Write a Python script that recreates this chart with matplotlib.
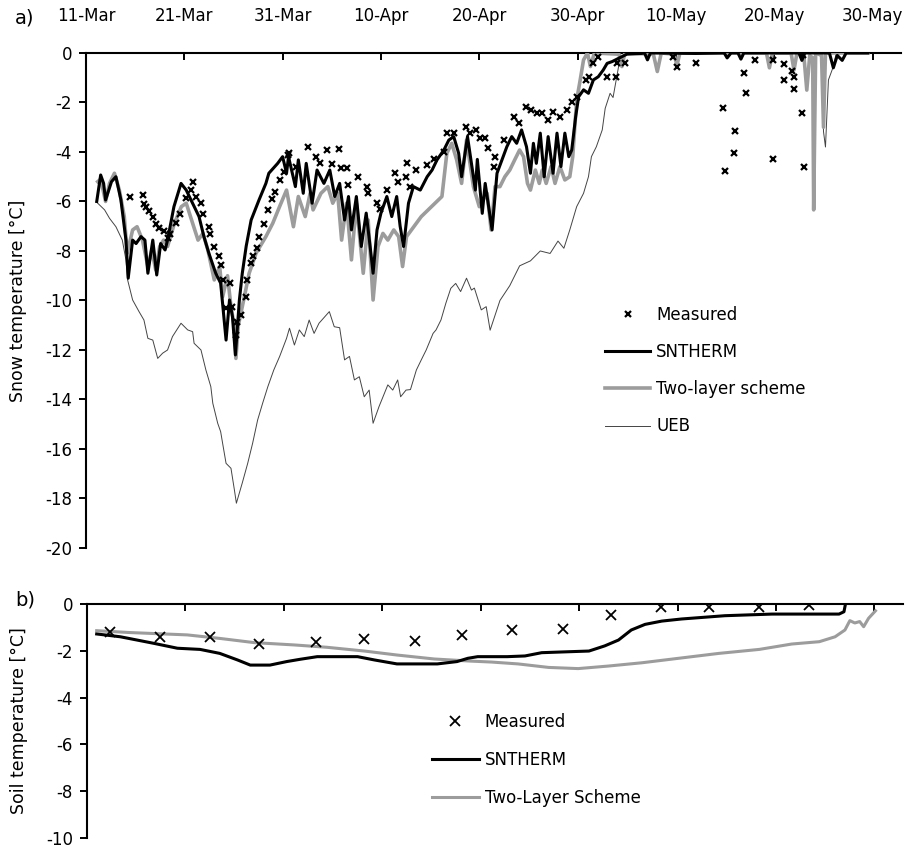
import pandas as pd
import matplotlib.pyplot as plt
import matplotlib.dates as mdates

plt.rcParams['font.family'] = ['DejaVu Sans']
plt.rcParams['axes.unicode_minus'] = False

start = pd.Timestamp('2006-03-11')

# ---- a) snow temperature, x = days after 11-Mar ----
snth_day = [1.1, 1.5, 1.8, 2.0, 2.6, 3.05, 3.56, 4.07, 4.3, 4.75, 5.1, 5.6, 6.0, 6.3, 6.8, 7.2, 7.6, 8.05,
            8.3, 8.95, 9.67, 10.2, 10.85, 11.5, 12.0, 12.5, 13.2, 13.7, 14.25, 14.6, 14.9, 15.2, 15.6, 15.9,
            16.3, 16.8, 17.6, 18.3, 18.6, 19.5, 20.0, 20.4, 20.6, 21.3, 21.6, 22.1, 22.4, 23.0, 23.5, 24.2,
            24.8, 25.3, 25.8, 26.3, 26.7, 27.0, 27.5, 28.0, 28.5, 28.9, 29.2, 29.6, 30.0, 30.6, 31.1, 31.6,
            31.95, 32.3, 32.8, 33.3, 34.0, 34.7, 35.2, 35.7, 36.4, 36.9, 37.4, 37.9, 38.2, 38.8, 39.2, 39.6,
            39.8, 40.3, 40.6, 41.3, 41.8, 42.3, 42.8, 43.3, 43.8, 44.3, 44.8, 45.2, 45.5, 45.8, 46.2, 46.6,
            47.0, 47.5, 47.9, 48.3, 48.7, 49.1, 49.4, 49.8, 50.1, 50.6, 51.1, 51.6, 52.1, 52.6, 53.0, 53.5,
            54.2, 55.0, 56.5, 56.8, 57.1, 57.4, 62.0, 64.9, 65.2, 65.6, 66.3, 66.6, 66.9, 72.5, 72.8, 73.1,
            75.6, 76.0, 76.4, 76.9, 77.3, 79.5]
snth_val = [-6.0, -4.93, -5.27, -5.94, -5.2, -5.0, -5.94, -7.56, -9.1, -7.56, -7.7, -7.42, -7.56, -8.9, -7.56,
            -8.97, -7.7, -7.96, -7.56, -6.21, -5.27, -5.54, -6.07, -6.61, -7.42, -8.09, -8.9, -9.3, -11.6, -9.98,
            -10.65, -12.2, -10.0, -8.9, -7.8, -6.75, -5.94, -5.27, -4.86, -4.46, -4.19, -4.86, -4.19, -5.40,
            -4.32, -5.67, -4.46, -6.07, -4.73, -5.27, -4.73, -5.8, -5.27, -6.75, -5.8, -7.15, -5.8, -7.82,
            -6.47, -7.82, -8.9, -7.15, -6.47, -5.8, -6.61, -5.8, -7.0, -7.82, -6.07, -5.40, -5.54, -5.0, -4.73,
            -4.32, -3.92, -3.52, -3.38, -4.05, -5.0, -3.38, -4.46, -5.54, -4.3, -6.48, -5.27, -7.15, -4.86,
            -4.32, -3.79, -3.38, -3.65, -3.11, -3.79, -4.86, -3.65, -4.46, -3.24, -5.0, -3.38, -4.86, -3.24,
            -4.59, -3.24, -4.19, -3.92, -2.57, -1.77, -1.49, -1.63, -1.09, -0.96, -0.69, -0.42, -0.35, -0.21,
            -0.05, -0.02, 0.0, -0.28, 0.0, -0.02, 0.0, -0.2, 0.0, 0.0, -0.25, 0.0, 0.0, -0.3, 0.0,
            0.0, -0.6, -0.1, -0.3, 0.0, 0.0]

two_day = [1.2, 1.5, 2.0, 2.4, 2.9, 3.4, 3.9, 4.2, 4.75, 5.2, 5.75, 6.3, 6.7, 7.1, 7.5, 7.9, 8.3, 9.0, 9.7,
           10.2, 10.85, 11.4, 11.9, 12.4, 13.05, 13.6, 13.9, 14.4, 14.75, 15.1, 15.25, 15.5, 15.9, 16.6, 17.3,
           18.3, 19.0, 19.7, 20.4, 21.1, 21.6, 22.3, 22.8, 23.1, 23.9, 24.6, 25.1, 25.6, 26.0, 26.5, 27.0,
           27.5, 28.2, 28.7, 29.2, 29.7, 30.2, 30.7, 31.3, 31.8, 32.2, 32.6, 33.1, 33.6, 34.1, 34.8, 35.5,
           36.2, 36.7, 37.2, 37.7, 38.2, 38.7, 39.4, 40.0, 40.8, 41.2, 41.6, 42.1, 42.6, 43.1, 43.6, 44.1,
           44.5, 44.9, 45.2, 45.7, 46.1, 46.4, 46.8, 47.3, 47.7, 48.2, 48.7, 49.2, 49.5, 49.9, 50.2, 50.6,
           51.0, 51.3, 51.7, 54.2, 54.5, 54.8, 57.7, 58.1, 58.5, 59.8, 60.1, 60.4, 69.2, 69.5, 69.8, 71.7,
           72.0, 72.3, 73.0, 73.3, 73.6, 73.9, 74.0, 74.2, 74.8, 75.0, 75.2, 79.5]
two_val = [-5.2, -5.1, -6.0, -5.27, -4.86, -5.54, -6.61, -8.09, -7.15, -7.02, -7.56, -8.63, -7.96, -8.77, -7.82,
           -7.56, -7.82, -6.88, -6.21, -6.07, -6.88, -7.56, -7.29, -7.96, -9.17, -8.63, -9.85, -9.0, -10.25,
           -11.06, -12.34, -11.0, -10.25, -8.9, -8.09, -7.42, -6.88, -6.2, -5.54, -7.02, -5.8, -6.61, -5.67,
           -6.34, -5.67, -5.40, -6.07, -5.67, -7.56, -6.07, -8.36, -6.07, -8.9, -6.75, -9.98, -7.82, -7.29,
           -7.56, -7.15, -7.42, -8.63, -7.42, -7.15, -6.88, -6.61, -6.34, -6.07, -5.8, -4.05, -3.65, -4.32,
           -5.27, -3.52, -5.4, -6.21, -5.67, -7.15, -5.40, -5.40, -5.0, -4.73, -4.32, -3.92, -4.19, -5.27,
           -5.54, -4.73, -5.27, -4.73, -5.27, -4.59, -5.27, -4.59, -5.13, -5.0, -4.19, -1.9, -1.23, -0.28,
           0.0, -0.55, 0.0, -0.05, -0.55, 0.0, -0.05, -0.75, 0.0, -0.05, -0.49, 0.0, 0.0, -0.6, 0.0, 0.0,
           -0.69, 0.0, -0.1, -1.5, -0.1, -0.2, -6.34, 0.0, -0.1, -3.0, 0.0, 0.0]

ueb_day = [1.2, 1.9, 2.4, 3.05, 3.7, 4.07, 4.24, 4.75, 5.4, 5.9, 6.3, 6.8, 7.3, 7.8, 8.3, 8.8, 9.67, 10.35,
           10.85, 11.0, 11.7, 12.2, 12.7, 12.9, 13.4, 13.7, 13.9, 14.25, 14.75, 15.1, 15.3, 15.9, 16.45,
           16.95, 17.46, 17.97, 18.5, 19.1, 19.7, 20.4, 20.7, 21.2, 21.7, 22.2, 22.7, 23.2, 23.7, 24.75,
           25.25, 25.8, 26.3, 26.8, 27.3, 27.8, 28.3, 28.8, 29.2, 29.8, 30.7, 31.2, 31.7, 32.0, 32.55, 33.0,
           33.6, 34.1, 34.6, 35.3, 35.6, 36.1, 36.6, 37.1, 37.6, 38.1, 38.7, 39.2, 39.5, 40.2, 40.7, 41.1,
           42.1, 43.1, 44.1, 45.2, 46.2, 47.2, 48.0, 48.6, 49.2, 49.9, 50.6, 51.1, 51.4, 51.9, 52.5, 52.8,
           53.3, 53.6, 54.1, 54.4, 74.8, 75.0, 75.2, 75.5, 76.0, 76.3, 80.0]
ueb_val = [-6.07, -6.34, -6.68, -7.02, -7.56, -8.36, -9.17, -9.98, -10.45, -10.79, -11.53, -11.6, -12.34,
           -12.13, -12.0, -11.46, -10.92, -11.19, -11.26, -11.73, -12.0, -12.81, -13.48, -14.15, -14.96,
           -15.3, -15.77, -16.58, -16.78, -17.66, -18.19, -17.37, -16.58, -15.77, -14.83, -14.15, -13.48,
           -12.81, -12.26, -11.53, -11.12, -11.8, -11.19, -11.46, -10.79, -11.33, -10.92, -10.45, -11.06,
           -11.1, -12.4, -12.26, -13.21, -13.08, -13.89, -13.62, -14.96, -14.29, -13.41, -13.62, -13.21,
           -13.89, -13.62, -13.6, -12.81, -12.4, -12.0, -11.33, -11.19, -10.79, -10.11, -9.51, -9.31, -9.64,
           -9.1, -9.58, -9.5, -10.38, -10.25, -11.2, -10.0, -9.4, -8.6, -8.4, -8.0, -8.1, -7.6, -7.89, -7.15,
           -6.21, -5.67, -5.0, -4.19, -3.79, -3.11, -2.24, -1.63, -1.8, -0.69, 0.0, 0.0, -3.18, -3.8, -1.09,
           -0.55, 0.0, 0.0]

meas_day = [4.5, 5.8, 5.9, 6.1, 6.45, 6.8, 7.1, 7.45, 7.9, 8.3, 8.6, 9.15, 9.6, 10.2, 10.7, 10.85, 11.2,
            11.7, 11.9, 12.5, 12.6, 13.05, 13.5, 13.7, 13.9, 14.2, 14.6, 14.9, 15.3, 15.4, 15.8, 16.3, 16.4,
            16.8, 17.0, 17.4, 17.6, 18.1, 18.5, 18.9, 19.2, 19.7, 20.1, 20.5, 20.7, 21.4, 22.6, 23.4, 23.8,
            24.5, 25.0, 25.7, 25.9, 26.5, 26.7, 27.7, 28.6, 28.7, 29.6, 29.9, 30.6, 31.4, 31.7, 32.5, 32.6,
            33.0, 33.6, 34.7, 35.4, 36.4, 36.7, 37.4, 38.6, 39.1, 39.7, 40.1, 40.6, 40.9, 41.5, 41.6, 42.5,
            43.5, 44.0, 44.7, 45.3, 45.9, 46.4, 47.0, 47.5, 48.2, 48.9, 49.4, 49.9, 50.8, 51.2, 51.6, 52.1,
            53.0, 53.9, 54.0, 54.8, 59.7, 60.1, 62.0, 64.8, 65.0, 65.9, 66.0, 66.9, 67.1, 68.0, 69.9, 69.9,
            71.0, 71.0, 71.8, 72.0, 72.0, 72.8, 72.9, 73.0]
meas_val = [-5.8, -5.74, -6.1, -6.21, -6.4, -6.61, -6.9, -7.08, -7.2, -7.49, -7.3, -6.88, -6.5, -5.87, -5.54,
            -5.2, -5.8, -6.07, -6.5, -7.02, -7.3, -7.82, -8.2, -8.55, -9.17, -10.3, -9.31, -10.25, -11.4,
            -10.86, -10.6, -9.85, -9.17, -8.5, -8.2, -7.9, -7.42, -6.9, -6.34, -5.9, -5.6, -5.13, -4.8, -4.12,
            -4.05, -4.59, -3.79, -4.19, -4.46, -3.92, -4.5, -3.89, -4.66, -4.66, -5.33, -5.0, -5.40, -5.67,
            -6.07, -6.3, -5.54, -4.86, -5.2, -5.0, -4.46, -5.4, -4.73, -4.52, -4.3, -3.99, -3.24, -3.24, -2.98,
            -3.24, -3.11, -3.45, -3.45, -3.85, -4.6, -4.19, -3.52, -2.57, -2.84, -2.17, -2.3, -2.44, -2.44,
            -2.71, -2.38, -2.57, -2.3, -2.0, -1.77, -1.09, -0.96, -0.42, -0.15, -0.96, -0.96, -0.42, -0.42,
            -0.15, -0.55, -0.39, -2.24, -4.77, -4.03, -3.14, -0.82, -1.63, -0.28, -4.30, -0.28, -1.09, -0.44,
            -0.71, -1.44, -0.96, -2.44, -0.1, -4.62]

# ---- b) soil temperature ----
soil_meas_day = [2.4, 7.4, 12.5, 17.5, 23.3, 28.2, 33.3, 38.1, 43.2, 48.4, 53.2, 58.3, 63.2, 68.3, 73.3]
soil_meas_val = [-1.18, -1.40, -1.40, -1.72, -1.61, -1.48, -1.57, -1.33, -1.11, -1.08, -0.47, -0.11, -0.14,
                 -0.14, -0.03]

soil_snth_day = [1.0, 3.4, 6.8, 9.2, 11.5, 13.5, 15.3, 16.6, 18.6, 20.3, 21.7, 23.4, 27.5, 29.2, 31.5, 35.6,
                 37.6, 38.7, 39.7, 42.7, 44.5, 46.2, 48.9, 51.0, 52.6, 54.0, 55.3, 56.7, 58.4, 60.4, 64.8,
                 69.6, 76.4, 76.9, 77.1]
soil_snth_val = [-1.28, -1.40, -1.68, -1.89, -1.94, -2.11, -2.39, -2.61, -2.61, -2.46, -2.36, -2.25, -2.25,
                 -2.39, -2.56, -2.56, -2.46, -2.32, -2.25, -2.25, -2.22, -2.08, -2.04, -2.01, -1.79, -1.54,
                 -1.11, -0.87, -0.73, -0.64, -0.50, -0.43, -0.43, -0.33, 0.1]

soil_two_day = [1.0, 4.4, 10.2, 13.5, 17.0, 21.1, 24.4, 28.2, 31.5, 35.3, 39.0, 41.1, 43.8, 46.9, 49.9, 53.0,
                56.4, 60.1, 64.2, 68.3, 71.6, 74.4, 76.0, 77.0, 77.5, 78.0, 78.5, 78.9, 79.4, 80.1]
soil_two_val = [-1.14, -1.22, -1.32, -1.47, -1.65, -1.75, -1.85, -2.01, -2.18, -2.35, -2.44, -2.48, -2.56,
                -2.71, -2.76, -2.65, -2.51, -2.32, -2.11, -1.94, -1.71, -1.61, -1.40, -1.11, -0.71, -0.81,
                -0.75, -0.97, -0.61, -0.29]

tick_dates = pd.date_range(start, periods=9, freq='10D')


def to_dates(days):
    return start + pd.to_timedelta(days, unit='D')


GRAY = '#9c9c9c'
x0, x1 = to_dates([0.0])[0], to_dates([82.9])[0]

fig = plt.figure(figsize=(9.14, 8.5), dpi=100)
ax1 = fig.add_axes([0.094, 0.3553, 0.892, 0.5824])
ax2 = fig.add_axes([0.095, 0.0141, 0.893, 0.2753])

ax1.plot(to_dates(ueb_day), ueb_val, color='#444444', lw=0.7, label='UEB', zorder=2)
ax1.plot(to_dates(two_day), two_val, color=GRAY, lw=2.6, label='Two-layer scheme', zorder=3)
ax1.plot(to_dates(snth_day), snth_val, color='black', lw=2.2, label='SNTHERM', zorder=4)
ax1.plot(to_dates(meas_day), meas_val, 'x', color='black', ms=4.5, mew=1.6, label='Measured', zorder=5)

ax2.plot(to_dates(soil_meas_day), soil_meas_val, 'x', color='black', ms=7, mew=1.3, label='Measured', zorder=5)
ax2.plot(to_dates(soil_snth_day), soil_snth_val, color='black', lw=2.2, label='SNTHERM', zorder=4)
ax2.plot(to_dates(soil_two_day), soil_two_val, color=GRAY, lw=2.2, label='Two-Layer Scheme', zorder=3)

for ax, ylo in [(ax1, -20), (ax2, -10)]:
    ax.set_xlim(x0, x1)
    ax.set_ylim(ylo, 0)
    ax.set_yticks(range(ylo, 1, 2))
    ax.set_xticks(tick_dates)
    ax.xaxis.set_major_formatter(mdates.DateFormatter('%d-%b'))
    ax.xaxis.tick_top()
    for s in ['bottom', 'right']:
        ax.spines[s].set_visible(False)
    for s in ['top', 'left']:
        ax.spines[s].set_linewidth(1.5)
    ax.tick_params(axis='x', direction='in', length=5, width=1.4, labelsize=12, pad=20)
    ax.tick_params(axis='y', direction='out', length=5, width=1.4, labelsize=12, pad=5)

ax2.tick_params(axis='x', labeltop=False)

ax1.set_ylabel('Snow temperature [°C]', fontsize=12.5)
ax1.yaxis.set_label_coords(-0.072, 0.5)
ax2.set_ylabel('Soil temperature [°C]', fontsize=12.5)
ax2.yaxis.set_label_coords(-0.072, 0.5)

h, l = ax1.get_legend_handles_labels()
order = [3, 2, 1, 0]
ax1.legend([h[i] for i in order], [l[i] for i in order], loc='upper left', bbox_to_anchor=(0.637, 0.489),
           frameon=False, fontsize=12, borderpad=0, borderaxespad=0, handlelength=2.7, handletextpad=0.35,
           labelspacing=1.15)
ax2.legend(loc='upper left', bbox_to_anchor=(0.423, 0.534), frameon=False, fontsize=12, borderpad=0,
           borderaxespad=0, handlelength=2.8, handletextpad=0.35, labelspacing=1.2)

fig.text(15 / 914, 1 - 18 / 850, 'a)', fontsize=14, ha='left', va='center')
fig.text(15 / 914, 1 - 600 / 850, 'b)', fontsize=14, ha='left', va='center')

fig.savefig('out.png', dpi=100)
